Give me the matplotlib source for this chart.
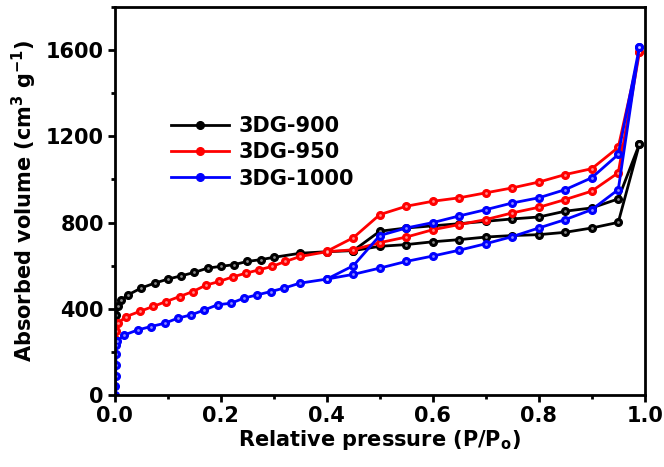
import matplotlib
matplotlib.use("Agg")
import matplotlib.pyplot as plt
from matplotlib.ticker import MultipleLocator

plt.rcParams['font.family'] = ['DejaVu Sans']
plt.rcParams['font.weight'] = 'bold'
plt.rcParams['mathtext.default'] = 'bf'

# 3DG-900 (adsorption then desorption)
p900_ads = [0.001, 0.003, 0.006, 0.012, 0.025, 0.05, 0.075, 0.10, 0.125, 0.15, 0.175, 0.20, 0.225,
            0.25, 0.275, 0.30, 0.35, 0.40, 0.45, 0.50, 0.55, 0.60, 0.65, 0.70, 0.75, 0.80, 0.85,
            0.90, 0.95, 0.99]
v900_ads = [330, 370, 411, 440, 465, 497, 519, 538, 553, 569, 589, 597, 605,
            620, 628, 639, 658, 665, 670, 690, 698, 711, 721, 733, 740, 744, 755,
            775, 801, 1165]
p900_des = [0.99, 0.95, 0.90, 0.85, 0.80, 0.75, 0.70, 0.65, 0.60, 0.55, 0.50, 0.45]
v900_des = [1165, 910, 868, 853, 826, 817, 806, 795, 785, 775, 760, 670]

# 3DG-950
p950_ads = [0.001, 0.003, 0.006, 0.021, 0.047, 0.072, 0.097, 0.122, 0.147, 0.172, 0.197, 0.222,
            0.247, 0.272, 0.297, 0.322, 0.35, 0.40, 0.45, 0.50, 0.55, 0.60, 0.65, 0.70, 0.75,
            0.80, 0.85, 0.90, 0.95, 0.99]
v950_ads = [262, 295, 334, 364, 388, 411, 434, 457, 480, 510, 527, 548,
            565, 581, 597, 620, 643, 665, 674, 707, 733, 767, 791, 814, 845,
            871, 907, 946, 1031, 1590]
p950_des = [0.99, 0.95, 0.90, 0.85, 0.80, 0.75, 0.70, 0.65, 0.60, 0.55, 0.50, 0.45, 0.40]
v950_des = [1590, 1149, 1050, 1023, 988, 961, 938, 915, 899, 876, 837, 730, 667]

# 3DG-1000
p1000_ads = [0.001, 0.001, 0.0015, 0.002, 0.002, 0.003, 0.004, 0.018, 0.043, 0.068, 0.094, 0.119,
             0.144, 0.169, 0.194, 0.219, 0.244, 0.269, 0.294, 0.319, 0.349, 0.40, 0.45, 0.50,
             0.55, 0.60, 0.65, 0.70, 0.75, 0.80, 0.85, 0.90, 0.95, 0.99]
v1000_ads = [0, 40, 90, 140, 190, 230, 250, 279, 302, 318, 333, 357,
             372, 395, 419, 426, 450, 465, 480, 496, 519, 538, 560, 589,
             620, 645, 672, 702, 735, 775, 814, 860, 953, 1615]
p1000_des = [0.99, 0.95, 0.90, 0.85, 0.80, 0.75, 0.70, 0.65, 0.60, 0.55, 0.50, 0.45, 0.40]
v1000_des = [1615, 1116, 1008, 953, 915, 891, 860, 831, 800, 775, 740, 600, 538]

labels = ['3DG-900', '3DG-950', '3DG-1000']
colors = ['#000000', '#ff0000', '#0000ff']

fig = plt.figure(figsize=(6.64, 4.67), dpi=100)
ax = fig.add_axes([0.173, 0.154, 0.798, 0.831])

series = [(p900_ads, v900_ads, p900_des, v900_des),
          (p950_ads, v950_ads, p950_des, v950_des),
          (p1000_ads, v1000_ads, p1000_des, v1000_des)]

for (pa, va, pd, vd), lab, c in zip(series, labels, colors):
    x = pa + pd
    y = va + vd
    ax.plot(x, y, color=c, lw=2, marker='o', ms=5.5, mfc=c, mec=c, label=lab)
    # little highlight on each ball
    ax.plot(x, y, ls='none', marker='o', ms=2, mfc='white', mec='none', alpha=0.55)

ax.set_xlim(0, 1.0)
ax.set_ylim(0, 1800)
ax.xaxis.set_minor_locator(MultipleLocator(0.1))
ax.yaxis.set_minor_locator(MultipleLocator(200))
ax.set_xticks([0, 0.2, 0.4, 0.6, 0.8, 1.0])
ax.set_xticklabels(['0.0', '0.2', '0.4', '0.6', '0.8', '1.0'])
ax.set_yticks([0, 400, 800, 1200, 1600])
ax.tick_params(which='major', direction='out', length=5, width=2, labelsize=15, pad=3)
ax.tick_params(which='minor', direction='out', length=3, width=2)
for s in ax.spines.values():
    s.set_linewidth(2)

ax.set_xlabel('Relative pressure (P/P$_o$)', fontsize=15, fontweight='bold', labelpad=1)
ax.set_ylabel('Absorbed volume (cm$^3$ g$^{-1}$)', fontsize=15, fontweight='bold', labelpad=5)

ax.legend(loc='upper left', bbox_to_anchor=(0.09, 0.74), borderaxespad=0, frameon=False,
          fontsize=15, handlelength=2.8, handletextpad=0.45, labelspacing=0.3)

fig.savefig('out.png', dpi=100)
